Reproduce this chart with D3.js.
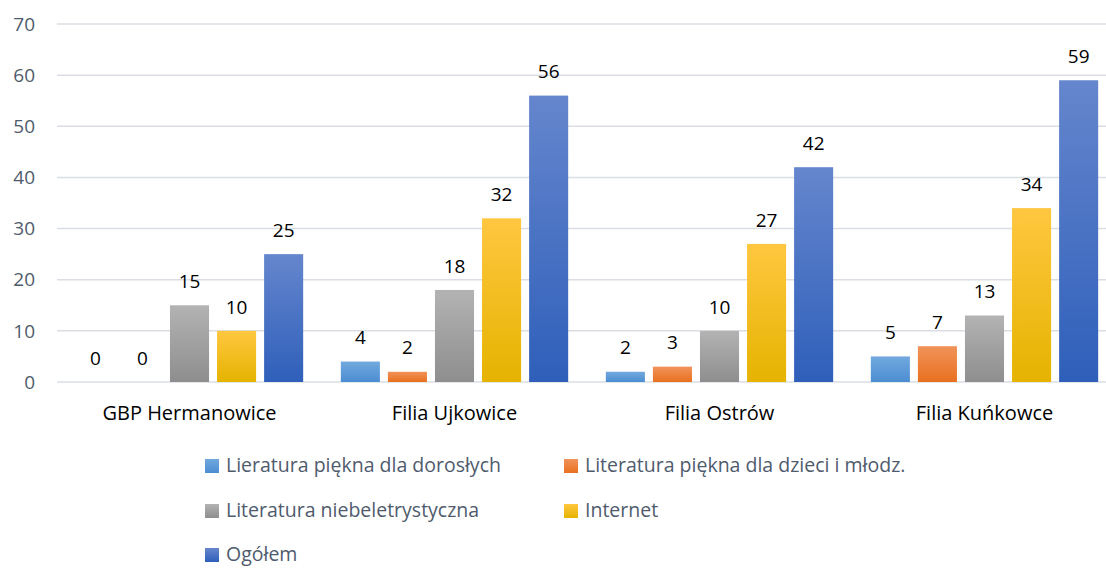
<!DOCTYPE html>
<html>
<head>
<meta charset="utf-8">
<script src="https://cdnjs.cloudflare.com/ajax/libs/d3/7.8.5/d3.min.js"></script>
<style>
  body { margin: 0; background: #fff; }
  text { font-family: "Open Sans", sans-serif; }
</style>
</head>
<body>
<div id="chart"></div>
<script>
var width = 1106, height = 568;

var categories = ["GBP Hermanowice", "Filia Ujkowice", "Filia Ostrów", "Filia Kuńkowce"];
var seriesNames = ["Lieratura piękna dla dorosłych", "Literatura piękna dla dzieci i młodz.",
  "Literatura niebeletrystyczna", "Internet", "Ogółem"];
var doroslych = [0, 4, 2, 5];
var dzieci = [0, 2, 3, 7];
var niebeletr = [15, 18, 10, 13];
var internet = [10, 32, 27, 34];
var ogolem = [25, 56, 42, 59];
var yTicks = [0, 10, 20, 30, 40, 50, 60, 70];

var seriesValues = [doroslych, dzieci, niebeletr, internet, ogolem];
var gradTop = ["#72a9de", "#f1935a", "#b3b3b3", "#ffc740", "#6586cd"];
var gradBot = ["#4b8dd2", "#e8701f", "#8e8e8e", "#e5b300", "#2f5fba"];

var svg = d3.select("#chart")
  .append("svg")
    .attr("width", width)
    .attr("height", height);

var defs = svg.append("defs");
seriesNames.forEach(function(s, i) {
  var g = defs.append("linearGradient")
      .attr("id", "grad" + i)
      .attr("x1", 0).attr("y1", 0).attr("x2", 0).attr("y2", 1);
  g.append("stop").attr("offset", "0%").attr("stop-color", gradTop[i]);
  g.append("stop").attr("offset", "100%").attr("stop-color", gradBot[i]);
});

var x0 = d3.scaleBand()
    .domain(categories)
    .range([57, 1117])
    .padding(0);

var x1 = d3.scaleBand()
    .domain(d3.range(seriesNames.length))
    .range([0, x0.bandwidth()])
    .paddingInner(0.17)
    .paddingOuter(0.4);

var y = d3.scaleLinear()
    .domain([0, 70])
    .range([382, 24]);

// gridlines
svg.append("g").selectAll("line")
    .data(yTicks)
  .enter().append("line")
    .attr("x1", 57)
    .attr("x2", 1117)
    .attr("y1", function(d) { return y(d); })
    .attr("y2", function(d) { return y(d); })
    .attr("stroke", "#dadee4")
    .attr("stroke-width", 1.5);

// y labels
svg.append("g").selectAll("text")
    .data(yTicks)
  .enter().append("text")
    .attr("x", 35)
    .attr("y", function(d) { return y(d); })
    .attr("dy", "0.35em")
    .attr("text-anchor", "end")
    .attr("font-size", 19)
    .attr("fill", "#4f5b6d")
    .text(function(d) { return d; });

// bars
var groups = svg.append("g").selectAll("g")
    .data(categories)
  .enter().append("g")
    .attr("transform", function(d) { return "translate(" + x0(d) + ",0)"; });

var cells = groups.selectAll("g")
    .data(function(d, ci) {
      return seriesValues.map(function(vals, si) { return { s: si, v: vals[ci] }; });
    })
  .enter().append("g");

cells.append("rect")
    .attr("x", function(d) { return x1(d.s); })
    .attr("y", function(d) { return y(d.v); })
    .attr("width", x1.bandwidth())
    .attr("height", function(d) { return y(0) - y(d.v); })
    .attr("fill", function(d) { return "url(#grad" + d.s + ")"; });

cells.append("text")
    .attr("x", function(d) { return x1(d.s) + x1.bandwidth() / 2; })
    .attr("y", function(d) { return y(d.v) - 24; })
    .attr("dy", "0.35em")
    .attr("text-anchor", "middle")
    .attr("font-size", 19)
    .attr("fill", "#000")
    .text(function(d) { return d.v; });

// category labels
svg.append("g").selectAll("text")
    .data(categories)
  .enter().append("text")
    .attr("x", function(d) { return x0(d) + x1(2) + x1.bandwidth() / 2; })
    .attr("y", 413)
    .attr("dy", "0.35em")
    .attr("text-anchor", "middle")
    .attr("font-size", 20)
    .attr("fill", "#000")
    .text(function(d) { return d; });

// legend
var legendPos = [[205, 465], [564, 465], [205, 510], [564, 510], [205, 554]];
var legend = svg.append("g").selectAll("g")
    .data(seriesNames)
  .enter().append("g")
    .attr("transform", function(d, i) { return "translate(" + legendPos[i][0] + "," + legendPos[i][1] + ")"; });

legend.append("rect")
    .attr("x", 0)
    .attr("y", -6)
    .attr("width", 14)
    .attr("height", 14)
    .attr("fill", function(d, i) { return "url(#grad" + i + ")"; });

legend.append("text")
    .attr("x", 21)
    .attr("y", 0)
    .attr("dy", "0.35em")
    .attr("font-size", 19.5)
    .attr("fill", "#4f5b6d")
    .text(function(d) { return d; });
</script>
</body>
</html>
